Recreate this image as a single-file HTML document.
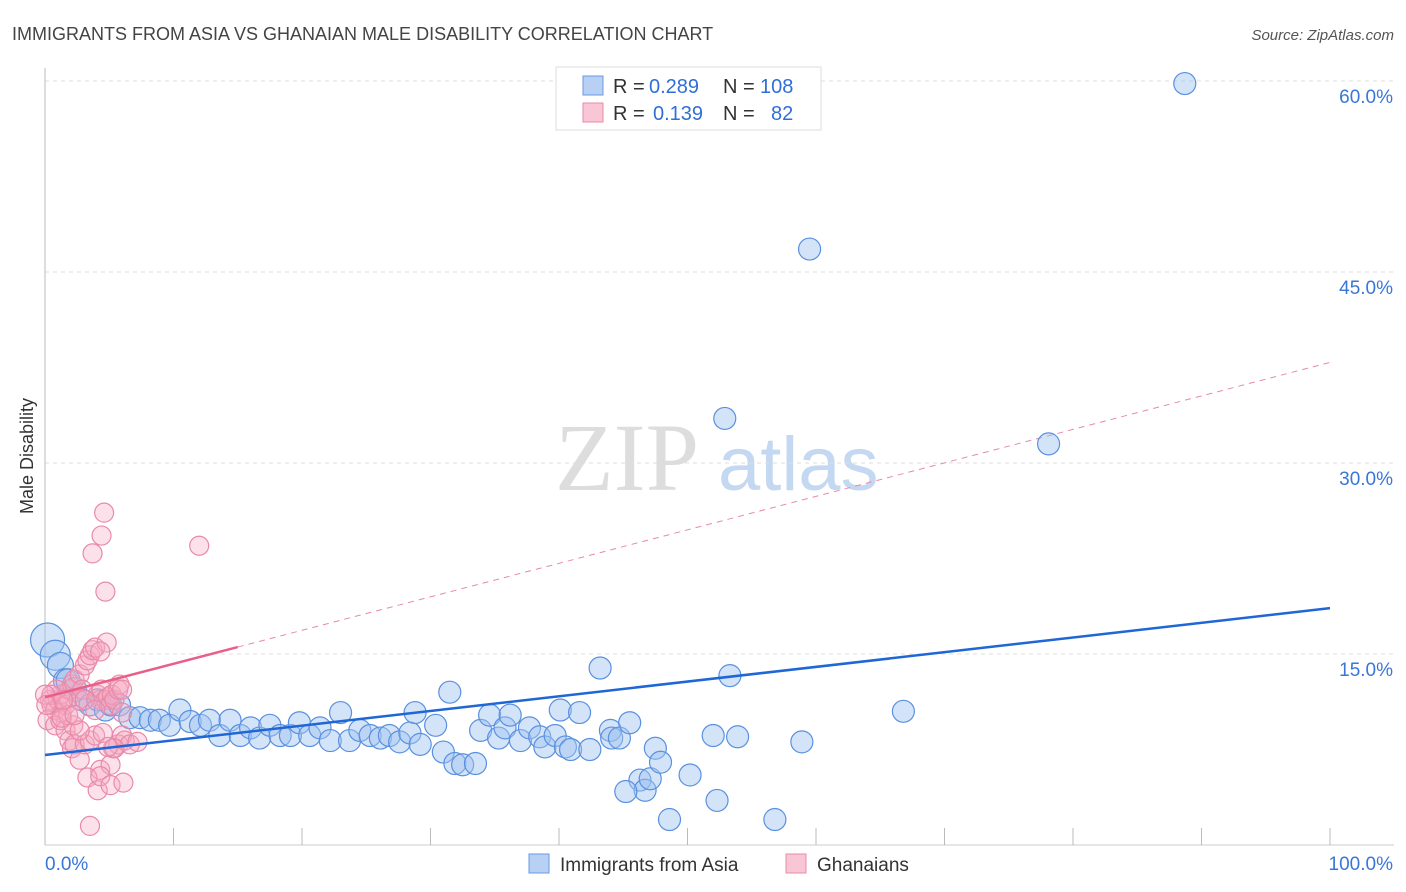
<!DOCTYPE html>
<html><head><meta charset="utf-8"><style>
body{margin:0;background:#fff;font-family:"Liberation Sans",sans-serif}
svg{display:block}
</style></head><body>
<svg id="chart" width="1406" height="892" xmlns="http://www.w3.org/2000/svg">
<text x="12" y="40" font-size="18" fill="#444">IMMIGRANTS FROM ASIA VS GHANAIAN MALE DISABILITY CORRELATION CHART</text>
<text x="1394" y="40" font-size="15" fill="#555" font-style="italic" text-anchor="end">Source: ZipAtlas.com</text>
<text x="33" y="456" font-size="18" fill="#333" text-anchor="middle" transform="rotate(-90 33 456)">Male Disability</text>
<g><text x="555" y="490" font-size="96" fill="#ddd" font-family="Liberation Serif,serif">ZIP</text><text x="718" y="490" font-size="76" fill="#c5d8f2">atlas</text></g>
<g id="grid"></g><g id="axes"></g><g id="lines"></g><g id="pts"></g>
<g>
<rect x="556" y="67" width="265" height="63" fill="#fff" stroke="#ddd"/>
<rect x="583" y="76" width="20" height="19" fill="#b7d0f3" stroke="#6a9ae0"/>
<rect x="583" y="103" width="20" height="19" fill="#f8c6d5" stroke="#e88aa8"/>
<text y="93" font-size="20" fill="#333"><tspan x="613">R =</tspan><tspan x="649" fill="#2f6fd6">0.289</tspan><tspan x="723">N =</tspan><tspan x="760" fill="#2f6fd6">108</tspan></text>
<text y="120" font-size="20" fill="#333"><tspan x="613">R =</tspan><tspan x="653" fill="#2f6fd6">0.139</tspan><tspan x="723">N =</tspan><tspan x="771" fill="#2f6fd6">82</tspan></text>
</g>
<g>
<rect x="529" y="854" width="20" height="19" fill="#b7d0f3" stroke="#6a9ae0"/>
<text x="560" y="871" font-size="19" fill="#333">Immigrants from Asia</text>
<rect x="786" y="854" width="20" height="19" fill="#f8c6d5" stroke="#e88aa8"/>
<text x="817" y="871" font-size="19" fill="#333">Ghanaians</text>
</g>
</svg>
<script>
const yTicks=[15,30,45,60];
const yTickLabels=["15.0%","30.0%","45.0%","60.0%"];
const xTickLabels=["0.0%","100.0%"];
const asiaX=[0.2,0.8,1.2,1.6,1.8,2.3,2.9,3.5,4.1,4.7,5.1,5.8,6.6,7.4,8.2,8.9,9.7,10.5,11.3,12.1,12.8,13.6,14.4,15.2,16.0,16.7,17.5,18.3,19.1,19.8,20.6,21.4,22.2,23.0,23.7,24.5,25.3,26.1,26.8,27.6,28.4,28.8,29.2,30.4,31.0,31.5,31.9,32.5,33.5,33.9,34.6,35.3,35.8,36.2,37.0,37.7,38.5,38.9,39.7,40.1,40.5,40.9,41.6,42.4,43.2,44.0,44.1,44.7,45.5,46.3,46.7,47.1,47.5,47.9,48.6,50.2,52.0,52.3,52.9,53.3,53.9,58.9,59.5,56.8,66.8,78.1,88.7,45.2];
const asiaY=[16.1,14.9,14.1,12.9,12.9,12.2,11.4,11.0,11.4,10.6,11.0,11.0,10.0,10.0,9.8,9.8,9.4,10.6,9.7,9.4,9.8,8.6,9.8,8.6,9.2,8.4,9.4,8.6,8.6,9.6,8.6,9.2,8.2,10.4,8.2,9.0,8.6,8.4,8.6,8.1,8.8,10.4,7.9,9.4,7.3,12.0,6.4,6.3,6.4,9.0,10.2,8.4,9.2,10.2,8.2,9.2,8.5,7.7,8.6,10.6,7.7,7.5,10.4,7.5,13.9,9.0,8.4,8.4,9.6,5.1,4.3,5.2,7.6,6.5,2.0,5.5,8.6,3.5,33.5,13.3,8.5,8.1,46.8,2.0,10.5,31.5,59.8,4.2];
const asiaSize=[17,15,13,12,12,12,11,11,11,11,11];
const ghX=[0.4,0.5,0.8,1.0,1.2,1.3,1.6,1.8,1.9,2.1,2.3,2.6,2.7,2.9,3.1,3.3,3.5,3.7,3.9,4.1,4.3,4.4,4.7,4.9,5.1,5.2,5.4,5.7,5.8,6.0,0.2,0.8,1.2,1.6,1.9,2.1,2.3,2.7,3.1,3.5,3.9,4.3,4.5,5.1,5.3,5.7,6.0,6.2,6.6,7.2,3.3,4.1,4.3,5.1,6.1,3.5,3.7,4.4,4.6,4.7,4.8,4.3,12.0,5.4,6.0,4.9,2.2,2.7,1.8,1.3,0.9,0.5,3.1,3.9,2.3,1.4,0.0,0.1];
const ghY=[11.4,11.0,10.6,11.4,11.8,10.4,11.0,11.5,12.2,12.6,13.0,11.4,13.4,12.2,14.1,14.5,14.9,15.3,15.5,11.8,11.4,12.2,11.4,11.6,11.0,11.8,11.4,12.2,12.6,12.2,9.8,9.4,9.8,9.0,8.2,7.6,7.9,6.7,7.9,8.2,8.6,5.9,8.8,6.3,7.6,7.9,8.6,8.2,7.9,8.1,5.3,4.3,5.4,4.7,4.9,1.5,22.9,24.3,26.1,19.9,15.9,15.2,23.5,7.6,10.4,7.7,9.4,9.0,10.2,10.0,12.2,11.8,11.4,10.6,10.2,11.4,11.8,11.0];
const asiaTrend=[7.07,18.6];
const ghTrend=[11.6,37.9];
const ghSolidEnd=15;
const NS="http://www.w3.org/2000/svg";
const X0=45,X1=1330,Y0=845,PXY=191/15;
function sx(v){return X0+(X1-X0)*v/100}
function sy(v){return Y0-v*PXY}
function mk(t,a,p){const e=document.createElementNS(NS,t);for(const k in a)e.setAttribute(k,a[k]);document.getElementById(p).appendChild(e);return e}
yTicks.forEach((t,i)=>{
 const g=mk('line',{x1:X0,x2:1394,y1:sy(t),y2:sy(t),stroke:'#ddd','stroke-dasharray':'4,4'},'grid');
 
 
 const l=mk('text',{x:1393,y:sy(t)+22,'font-size':19,fill:'#3a76d8','text-anchor':'end'},'axes');
 l.textContent=yTickLabels[i];
 
 
});
mk('line',{x1:X0,x2:X0,y1:68,y2:Y0,stroke:'#bbb'},'axes');
mk('line',{x1:X0,x2:1394,y1:Y0,y2:Y0,stroke:'#ccc'},'axes');
for(let i=0;i<=10;i++){const t=mk('line',{x1:sx(i*10),x2:sx(i*10),y1:828,y2:Y0,stroke:'#bbb'},'axes');
 
 }
const xl0=mk('text',{x:45,y:870,'font-size':19,fill:'#3a76d8'},'axes');xl0.textContent=xTickLabels[0];


const xl1=mk('text',{x:1393,y:870,'font-size':19,fill:'#3a76d8','text-anchor':'end'},'axes');xl1.textContent=xTickLabels[1];


function trendY(tr,x){return tr[0]+(tr[1]-tr[0])*x/100}
const gd=mk('line',{x1:sx(ghSolidEnd),y1:sy(trendY(ghTrend,ghSolidEnd)),x2:sx(100),y2:sy(ghTrend[1]),stroke:'#e88aa8','stroke-dasharray':'6,5','stroke-width':1},'lines');


asiaX.forEach((x,i)=>{const c=mk('circle',{cx:sx(x),cy:sy(asiaY[i]),r:asiaSize[i]||11,fill:'rgba(160,195,240,0.45)',stroke:'#5a90e0','stroke-width':1.2},'pts');
 
 });
ghX.forEach((x,i)=>{const c=mk('circle',{cx:sx(x),cy:sy(ghY[i]),r:9.5,fill:'rgba(245,170,195,0.35)',stroke:'#e88aa8','stroke-width':1.2},'pts');
 
 });
const bt=mk('line',{x1:sx(0),y1:sy(asiaTrend[0]),x2:sx(100),y2:sy(asiaTrend[1]),stroke:'#1f66d6','stroke-width':2.5},'pts');


const pt=mk('line',{x1:sx(0),y1:sy(ghTrend[0]),x2:sx(ghSolidEnd),y2:sy(trendY(ghTrend,ghSolidEnd)),stroke:'#e8608a','stroke-width':2.5},'pts');


</script>
</body></html>
